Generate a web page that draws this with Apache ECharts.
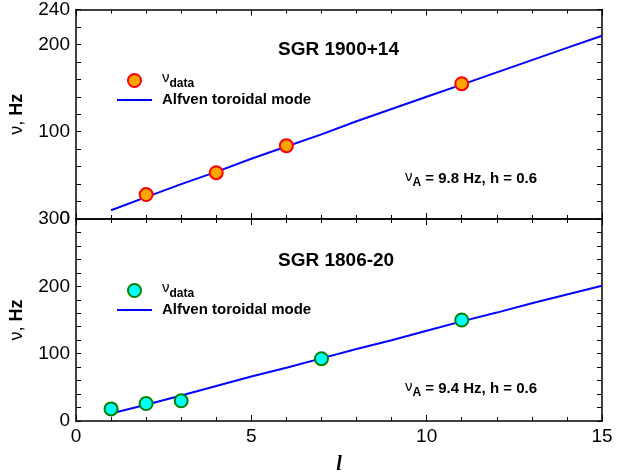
<!DOCTYPE html>
<html>
<head>
<meta charset="utf-8">
<script src="https://cdn.jsdelivr.net/npm/echarts@6/dist/echarts.min.js"></script>
<style>html,body{margin:0;padding:0;background:#fff;}#c{width:634px;height:476px;}</style>
</head>
<body>
<div id="c"></div>
<script>
// ---- data ----
var lTop = [2, 4, 6, 11];
var nuTop = [28, 53, 84, 155];
var lBot = [1, 2, 3, 7, 11];
var nuBot = [18, 26, 30, 92.5, 150];
var lModel = [1, 2, 3, 4, 5, 6, 7, 8, 9, 10, 11, 12, 13, 14, 15];
var modelTop = [10, 25, 40, 54, 69, 83, 97, 112, 126, 140, 154, 168, 182, 196, 210];
var modelBot = [11, 24, 38, 52, 66, 79, 93, 107, 120, 134, 148, 161, 175, 188, 201];
var yTopLabels = [0, 100, 200, 240];
var yBotLabels = [0, 100, 200, 300];
var xTicks = [0, 5, 10, 15];

function pairs(xs, ys) { return xs.map(function (x, i) { return [x, ys[i]]; }); }

var FONT = 'Liberation Sans, Arial, sans-serif';
var tickCommon = { show: true, inside: true, length: 6, lineStyle: { color: '#000', width: 1 } };
var minorCommon = { show: true, splitNumber: 5, length: 4, lineStyle: { color: '#000', width: 1 } };
var axisLineCommon = { show: true, onZero: false, lineStyle: { color: '#000', width: 1.5 } };

function xAxisDef(gi, pos, showLabel, withName) {
  var a = {
    type: 'value', gridIndex: gi, position: pos, min: 0, max: 15, interval: 5,
    axisLine: axisLineCommon, axisTick: tickCommon, minorTick: minorCommon,
    splitLine: { show: false },
    axisLabel: { show: showLabel, color: '#000', fontSize: 19, fontFamily: FONT, margin: 6,
      formatter: function (v) { return xTicks.indexOf(v) >= 0 ? String(v) : ''; } }
  };
  if (withName) {
    a.name = 'l'; a.nameLocation = 'middle'; a.nameGap = 34;
    a.nameTextStyle = { fontSize: 20, fontStyle: 'italic', fontWeight: 'bold', fontFamily: 'Liberation Serif, Times New Roman, serif', color: '#000' };
  }
  return a;
}

function yAxisDef(gi, pos, max, labels, showLabel) {
  var a = {
    type: 'value', gridIndex: gi, position: pos, min: 0, max: max, interval: 20,
    axisLine: axisLineCommon, axisTick: { show: true, inside: true, length: 5, lineStyle: { color: '#000', width: 1 } },
    splitLine: { show: false },
    axisLabel: { show: showLabel, color: '#000', fontSize: 19, fontFamily: FONT, margin: 6,
      showMinLabel: true, showMaxLabel: true,
      formatter: function (v) { return labels.indexOf(v) >= 0 ? String(v) : ''; } }
  };
  if (showLabel) {
    a.name = '{a|ν, }{b|Hz}';
    a.nameLocation = 'middle'; a.nameGap = 50; a.nameRotate = 90;
    a.nameTextStyle = { color: '#000', fontFamily: FONT,
      rich: { a: { fontSize: 18, fontFamily: FONT, color: '#000' }, b: { fontSize: 18, fontWeight: 'bold', fontFamily: FONT, color: '#000' } } };
  }
  return a;
}

var legendRich = {
  nu: { fontSize: 15, fontFamily: FONT, color: '#000', padding: [0, 0, 6, 5] },
  sub: { fontSize: 12, fontWeight: 'bold', fontFamily: FONT, color: '#000', padding: [6, 0, 0, 0] },
  t: { fontSize: 15, fontWeight: 'bold', fontFamily: FONT, color: '#000', padding: [0, 0, 0, 5] }
};
function legendFmt(name) {
  if (name.indexOf('data') === 0) return '{nu|ν}{sub|data}';
  return '{t|Alfven toroidal mode}';
}
var lineIcon = 'path://M0,0 L35,0 L35,2 L0,2 Z';

var annRich = {
  nu: { fontSize: 15, fontFamily: FONT, color: '#000', padding: [0, 0, 4, 0] },
  sub: { fontSize: 12, fontWeight: 'bold', fontFamily: FONT, color: '#000', padding: [8, 0, 0, 0] },
  b: { fontSize: 15, fontWeight: 'bold', fontFamily: FONT, color: '#000' }
};

var chart = echarts.init(document.getElementById('c'), null, { renderer: 'canvas' });
chart.setOption({
  animation: false,
  backgroundColor: '#fff',
  grid: [
    { left: 76, top: 9.5, width: 526, height: 209.5 },
    { left: 76, top: 219, width: 526, height: 211.3 }
  ],
  xAxis: [
    xAxisDef(0, 'bottom', false, false),
    xAxisDef(0, 'top', false, false),
    xAxisDef(1, 'bottom', true, true),
    xAxisDef(1, 'top', false, false)
  ],
  yAxis: [
    yAxisDef(0, 'left', 240, yTopLabels, true),
    yAxisDef(0, 'right', 240, yTopLabels, false),
    yAxisDef(1, 'left', 300, yBotLabels, true),
    yAxisDef(1, 'right', 300, yBotLabels, false)
  ],
  title: [
    { text: 'SGR 1900+14', left: 273, top: 35, textStyle: { fontSize: 19, fontWeight: 'bold', fontFamily: FONT, color: '#000' } },
    { text: 'SGR 1806-20', left: 273, top: 246, textStyle: { fontSize: 19, fontWeight: 'bold', fontFamily: FONT, color: '#000' } }
  ],
  legend: [
    { data: ['data1', { name: 'alf1', icon: lineIcon }], orient: 'vertical', left: 112, top: 65, itemWidth: 35, itemHeight: 13, itemGap: 3,
      formatter: legendFmt, textStyle: { rich: legendRich }, selectedMode: false },
    { data: ['data2', { name: 'alf2', icon: lineIcon }], orient: 'vertical', left: 112, top: 275, itemWidth: 35, itemHeight: 13, itemGap: 3,
      formatter: legendFmt, textStyle: { rich: legendRich }, selectedMode: false }
  ],
  graphic: [
    { type: 'text', left: 405, top: 169, style: { text: '{nu|ν}{sub|A}{b| = 9.8 Hz, h = 0.6}', rich: annRich } },
    { type: 'text', left: 405, top: 379, style: { text: '{nu|ν}{sub|A}{b| = 9.4 Hz, h = 0.6}', rich: annRich } }
  ],
  series: [
    { name: 'alf1', type: 'line', xAxisIndex: 0, yAxisIndex: 0, data: pairs(lModel, modelTop),
      symbol: 'none', showSymbol: false, lineStyle: { color: '#0000ff', width: 2 }, itemStyle: { color: '#0000ff' }, z: 2 },
    { name: 'data1', type: 'scatter', xAxisIndex: 0, yAxisIndex: 0, data: pairs(lTop, nuTop),
      symbol: 'circle', symbolSize: 13, itemStyle: { color: '#ffa500', borderColor: '#ff0000', borderWidth: 2, opacity: 1 }, z: 3 },
    { name: 'alf2', type: 'line', xAxisIndex: 2, yAxisIndex: 2, data: pairs(lModel, modelBot),
      symbol: 'none', showSymbol: false, lineStyle: { color: '#0000ff', width: 2 }, itemStyle: { color: '#0000ff' }, z: 2 },
    { name: 'data2', type: 'scatter', xAxisIndex: 2, yAxisIndex: 2, data: pairs(lBot, nuBot),
      symbol: 'circle', symbolSize: 13, itemStyle: { color: '#00ffff', borderColor: '#008000', borderWidth: 2, opacity: 1 }, z: 3 }
  ]
});
</script>
</body>
</html>
